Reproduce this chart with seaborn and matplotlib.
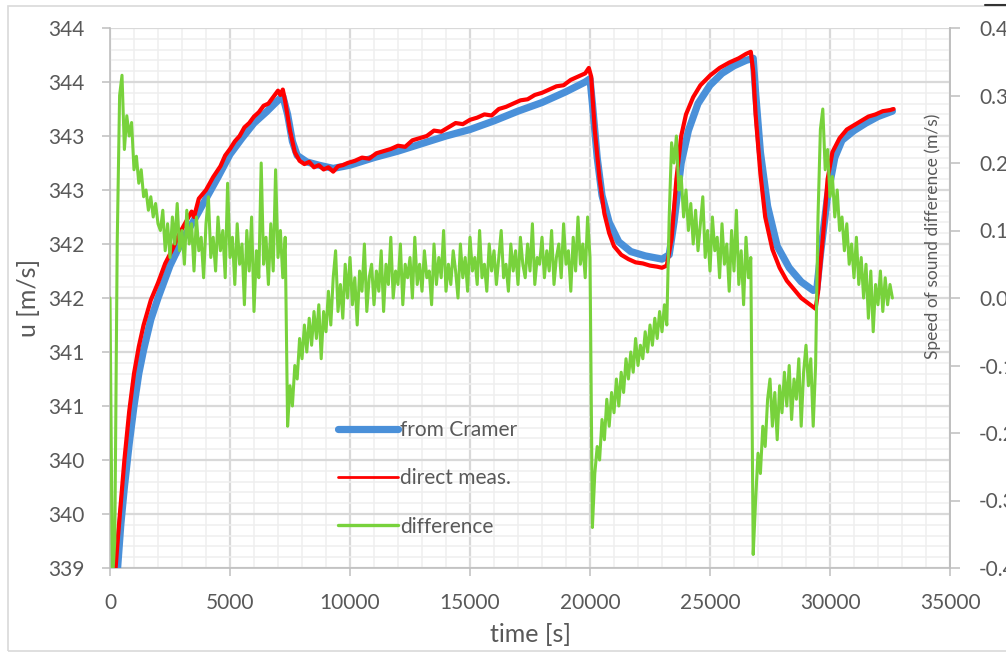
import numpy as np
import pandas as pd
import matplotlib
matplotlib.use("Agg")
import matplotlib.pyplot as plt
from matplotlib.lines import Line2D
from matplotlib.patches import Rectangle
from matplotlib.ticker import MultipleLocator, FixedLocator, FixedFormatter
import seaborn as sns

# ---------------- data ----------------
# Speed of sound computed from the Cramer equation [m/s]
cramer_time = [250, 300, 450, 600, 800, 1000, 1200, 1400, 1700, 2000, 2500, 3000,
               3500, 4000, 4500, 5000, 5500, 6000, 6500, 7000, 7200, 7400, 7600,
               7800, 8200, 8700, 9300, 10000, 11000, 12000, 13000, 14000, 15000,
               16000, 17000, 18000, 19000, 19800, 20000, 20100, 20300, 20500,
               20800, 21200, 21700, 22300, 23000, 23300, 23500, 23800, 24100,
               24500, 25000, 25500, 26000, 26500, 26800, 26900, 27100, 27400,
               27800, 28300, 28800, 29300, 29450, 29600, 29900, 30200, 30500,
               31000, 31500, 32000, 32600]
cramer_speed = [338.85, 338.95, 339.4, 339.75, 340.15, 340.5, 340.8, 341.02, 341.3,
                341.5, 341.8, 342.03, 342.22, 342.42, 342.62, 342.83, 342.98,
                343.12, 343.22, 343.33, 343.37, 343.2, 342.95, 342.82, 342.76,
                342.73, 342.7, 342.73, 342.8, 342.86, 342.93, 343.0, 343.06,
                343.14, 343.23, 343.31, 343.41, 343.5, 343.53, 343.3, 342.8,
                342.45, 342.2, 342.02, 341.93, 341.89, 341.86, 341.9, 342.2,
                342.75, 343.05, 343.3, 343.47, 343.58, 343.65, 343.7, 343.72,
                343.4, 342.85, 342.35, 341.98, 341.78, 341.65, 341.57, 341.58,
                341.9, 342.45, 342.8, 342.96, 343.05, 343.12, 343.18, 343.23]

# Directly measured speed of sound [m/s]
direct_time = [200, 300, 450, 600, 800, 1000, 1200, 1400, 1700, 2000, 2300, 2600,
               2900, 3200, 3400, 3500, 3700, 4000, 4300, 4600, 4800, 5000, 5200,
               5400, 5600, 5800, 6000, 6200, 6400, 6600, 6800, 7000, 7100, 7200,
               7300, 7500, 7700, 7900, 8100, 8300, 8500, 8700, 8900, 9100, 9300,
               9500, 9700, 9900, 10200, 10500, 10800, 11100, 11400, 11700, 12000,
               12300, 12600, 12900, 13200, 13500, 13800, 14100, 14400, 14700,
               15000, 15300, 15600, 15900, 16200, 16500, 16800, 17100, 17400,
               17700, 18000, 18300, 18600, 18900, 19200, 19500, 19800, 19950,
               20050, 20200, 20400, 20600, 20800, 21000, 21300, 21600, 21900,
               22200, 22500, 22800, 23000, 23200, 23400, 23600, 23800, 24000,
               24300, 24600, 25000, 25400, 25800, 26200, 26500, 26700, 26800,
               26900, 27100, 27300, 27600, 27900, 28200, 28500, 28800, 29100,
               29400, 29500, 29700, 29900, 30100, 30400, 30700, 31000, 31300,
               31600, 31900, 32200, 32500, 32650]
direct_speed = [338.9, 339.2, 339.6, 340.0, 340.45, 340.8, 341.05, 341.25, 341.48,
                341.64, 341.82, 341.95, 342.1, 342.22, 342.3, 342.25, 342.42,
                342.5, 342.62, 342.72, 342.82, 342.88, 342.95, 343.0, 343.08,
                343.12, 343.18, 343.22, 343.28, 343.3, 343.36, 343.42, 343.38,
                343.43, 343.32, 343.05, 342.85, 342.77, 342.74, 342.76, 342.71,
                342.73, 342.69, 342.71, 342.67, 342.72, 342.73, 342.75, 342.77,
                342.8, 342.79, 342.84, 342.86, 342.88, 342.91, 342.9, 342.96,
                342.98, 343.0, 343.05, 343.04, 343.08, 343.12, 343.11, 343.15,
                343.17, 343.2, 343.19, 343.25, 343.27, 343.3, 343.33, 343.34,
                343.38, 343.4, 343.43, 343.46, 343.47, 343.52, 343.55, 343.58,
                343.63, 343.55, 343.05, 342.6, 342.28, 342.1, 341.98, 341.9,
                341.86, 341.83, 341.82, 341.8, 341.79, 341.78, 341.8, 342.05,
                342.6, 343.0, 343.2, 343.36, 343.47, 343.56, 343.63, 343.68,
                343.72, 343.76, 343.78, 343.6, 343.2, 342.65, 342.25, 341.95,
                341.78, 341.66, 341.58, 341.5, 341.45, 341.4, 341.55, 342.05,
                342.6, 342.85, 342.98, 343.06, 343.1, 343.14, 343.18, 343.2,
                343.23, 343.24, 343.25]

# Difference direct - Cramer [m/s], logged every 100 s
diff_step = 100
diff_values = [
    # 0 - 2000 s
    0.0, -0.42, -0.36, 0.08, 0.30, 0.33, 0.22, 0.27, 0.24, 0.26, 0.19, 0.21,
    0.17, 0.19, 0.15, 0.16, 0.13, 0.15, 0.12, 0.14, 0.11,
    # 2100 - 7300 s
    0.10, 0.13, 0.07, 0.11, 0.06, 0.12, 0.08, 0.14, 0.07, 0.10, 0.05, 0.13,
    0.08, 0.11, 0.04, 0.12, 0.07, 0.09, 0.03, 0.11, 0.15, 0.06, 0.09, 0.04,
    0.12, 0.07, 0.10, 0.03, 0.17, 0.06, 0.09, 0.02, 0.11, 0.05, 0.08, -0.01,
    0.10, 0.04, 0.12, -0.02, 0.07, 0.03, 0.20, 0.05, 0.09, 0.02, 0.11, 0.04,
    0.19, 0.06, 0.10, 0.03, 0.09,
    # 7400 - 9000 s
    -0.19, -0.13, -0.16, -0.10, -0.12, -0.06, -0.09, -0.04, -0.08, -0.03,
    -0.07, -0.02, -0.06, -0.01, -0.09, -0.02, -0.05,
    # 9100 - 20000 s
    0.01, -0.04, 0.03, 0.07, -0.02, 0.02, -0.03, 0.05, 0.00, 0.06,
    -0.01, 0.03, -0.04, 0.04, 0.01, 0.08, -0.02, 0.03, 0.05, -0.01,
    0.04, 0.01, 0.07, -0.02, 0.05, 0.02, 0.09, 0.00, 0.04, 0.02,
    0.08, -0.01, 0.05, 0.03, 0.06, 0.00, 0.09, 0.02, 0.05, 0.01,
    0.07, 0.03, 0.04, -0.01, 0.08, 0.02, 0.06, 0.03, 0.10, 0.01,
    0.05, 0.02, 0.07, 0.04, 0.00, 0.08, 0.03, 0.06, 0.01, 0.09,
    0.04, 0.06, 0.02, 0.10, 0.03, 0.05, 0.01, 0.08, 0.04, 0.07,
    0.02, 0.06, 0.10, 0.03, 0.05, 0.01, 0.08, 0.04, 0.07, 0.02,
    0.09, 0.05, 0.03, 0.08, 0.04, 0.11, 0.02, 0.06, 0.05, 0.09,
    0.03, 0.07, 0.04, 0.10, 0.02, 0.06, 0.08, 0.03, 0.11, 0.05,
    0.07, 0.01, 0.09, 0.04, 0.12, 0.05, 0.08, 0.03, 0.12, 0.06,
    # 20100 - 23200 s
    -0.34, -0.26, -0.22, -0.24, -0.18, -0.21, -0.15, -0.19, -0.14, -0.17,
    -0.12, -0.16, -0.11, -0.14, -0.09, -0.12, -0.08, -0.11, -0.06, -0.10,
    -0.07, -0.09, -0.05, -0.08, -0.04, -0.07, -0.03, -0.06, -0.02, -0.05,
    -0.01, -0.04,
    # 23300 - 26700 s
    0.12, 0.23, 0.20, 0.24, 0.16, 0.18, 0.12, 0.16, 0.10, 0.14, 0.08, 0.13,
    0.07, 0.11, 0.15, 0.06, 0.10, 0.04, 0.12, 0.07, 0.09, 0.03, 0.11, 0.05,
    0.08, 0.01, 0.10, 0.04, 0.13, 0.02, 0.07, -0.01, 0.09, 0.03, 0.06,
    # 26800 - 29400 s
    -0.38, -0.30, -0.23, -0.26, -0.19, -0.22, -0.15, -0.12, -0.19, -0.14,
    -0.21, -0.13, -0.17, -0.11, -0.16, -0.10, -0.18, -0.12, -0.15, -0.09,
    -0.19, -0.11, -0.07, -0.13, -0.09, -0.19, -0.10,
    # 29500 - 32600 s
    0.12, 0.25, 0.28, 0.19, 0.22, 0.15, 0.18, 0.12, 0.16, 0.10, 0.12, 0.07,
    0.11, 0.05, 0.08, 0.03, 0.09, 0.02, 0.06, 0.00, 0.05, -0.03, 0.04, -0.05,
    0.02, -0.01, 0.04, -0.02, 0.03, -0.01, 0.02, 0.00,
]
diff_time = np.arange(len(diff_values)) * diff_step

# axis ticks and labels
x_ticks = [0, 5000, 10000, 15000, 20000, 25000, 30000, 35000]
x_labels = ["0", "5000", "10000", "15000", "20000", "25000", "30000", "35000"]
u_ticks = [339.0, 339.5, 340.0, 340.5, 341.0, 341.5, 342.0, 342.5, 343.0, 343.5, 344.0]
u_labels = ["339", "340", "340", "341", "341", "342", "342", "343", "343", "344", "344"]
d_ticks = [-0.4, -0.3, -0.2, -0.1, 0.0, 0.1, 0.2, 0.3, 0.4]
d_labels = ["-0.4", "-0.3", "-0.2", "-0.1", "0.0", "0.1", "0.2", "0.3", "0.4"]

series_names = ["from Cramer", "direct meas.", "difference"]

# ---------------- style ----------------
sns.set_theme(style="white")
plt.rcParams["font.family"] = ["Lato", "DejaVu Sans"]
plt.rcParams["axes.unicode_minus"] = False

TEXT = "#595959"
BLUE = "#4a90d9"
RED = "#ff0000"
GREEN = "#78d23c"
MAJOR_GRID = "#d9d9d9"
MINOR_GRID = "#efefef"
SPINE = "#bfbfbf"

W, H = 1006, 654
fig = plt.figure(figsize=(W / 100, H / 100), dpi=100)
fig.patch.set_facecolor("white")

# chart frame
fig.add_artist(Rectangle((8 / W, 1 - 651 / H), 1.2, (651 - 6) / H,
                         transform=fig.transFigure, fill=False,
                         edgecolor="#d9d9d9", linewidth=1.2))
fig.add_artist(Line2D([985 / W, 1.0], [1 - 4.5 / H, 1 - 4.5 / H],
                      transform=fig.transFigure, color="#333333", linewidth=1.5))

ax = fig.add_axes([110 / W, 1 - 568 / H, 840 / W, 540 / H])
ax.set_facecolor("white")

cramer_df = pd.DataFrame({"time": cramer_time, "u": cramer_speed})
direct_df = pd.DataFrame({"time": direct_time, "u": direct_speed})
diff_df = pd.DataFrame({"time": diff_time, "d": diff_values})

sns.lineplot(data=cramer_df, x="time", y="u", ax=ax, color=BLUE,
             linewidth=5.2, label=series_names[0], legend=False, zorder=3)
sns.lineplot(data=direct_df, x="time", y="u", ax=ax, color=RED,
             linewidth=3.0, label=series_names[1], legend=False, zorder=4)

ax.set_xlim(0, 35000)
ax.set_ylim(339, 344)

ax.xaxis.set_major_locator(FixedLocator(x_ticks))
ax.xaxis.set_major_formatter(FixedFormatter(x_labels))
ax.xaxis.set_minor_locator(MultipleLocator(1000))
ax.yaxis.set_major_locator(FixedLocator(u_ticks))
ax.yaxis.set_major_formatter(FixedFormatter(u_labels))
ax.yaxis.set_minor_locator(MultipleLocator(0.1))

ax.grid(which="major", color=MAJOR_GRID, linewidth=1.6, zorder=1)
ax.grid(which="minor", color=MINOR_GRID, linewidth=1.1, zorder=0.5)
ax.set_axisbelow(True)

ax.spines["top"].set_visible(False)
for side in ["left", "bottom", "right"]:
    ax.spines[side].set_color(SPINE)
    ax.spines[side].set_linewidth(1.2)

ax.tick_params(axis="both", which="major", direction="out", length=6,
               width=1.1, color=SPINE, labelcolor=TEXT, labelsize=15)
ax.tick_params(axis="x", which="major", pad=12, bottom=True)
ax.tick_params(axis="y", which="major", pad=12, left=True)
ax.tick_params(which="minor", length=0)

ax.set_xlabel("time [s]", fontsize=18, color=TEXT, labelpad=7)
ax.set_ylabel("u [m/s]", fontsize=18, color=TEXT, labelpad=6)

# secondary axis for the difference
ax2 = ax.twinx()
sns.lineplot(data=diff_df, x="time", y="d", ax=ax2, color=GREEN,
             linewidth=2.2, label=series_names[2], legend=False)
ax2.set_ylim(-0.4, 0.4)
ax2.yaxis.set_major_locator(FixedLocator(d_ticks))
ax2.yaxis.set_major_formatter(FixedFormatter(d_labels))
ax2.grid(False)
for side in ["top", "left", "bottom"]:
    ax2.spines[side].set_visible(False)
ax2.spines["right"].set_color(SPINE)
ax2.spines["right"].set_linewidth(1.2)
ax2.tick_params(axis="y", which="major", direction="out", length=7, width=1.1,
                color=SPINE, labelcolor=TEXT, labelsize=15, pad=14, right=True)
ax2.set_ylabel("")
ax2.set_xlabel("")

# right-hand axis title sits inside the plot area next to the spine
ax2.text(933 / W, 1 - 236 / H, "Speed of sound difference (m/s)",
         transform=fig.transFigure, rotation=90, ha="center", va="center",
         fontsize=12.5, color=TEXT)

handles = [Line2D([], [], color=BLUE, linewidth=5.2, solid_capstyle="round"),
           Line2D([], [], color=RED, linewidth=2.0),
           Line2D([], [], color=GREEN, linewidth=2.4)]
leg = ax2.legend(handles, series_names, loc="upper left",
                 bbox_to_anchor=(338 / W, 1 - 420 / H),
                 bbox_transform=fig.transFigure, frameon=False,
                 fontsize=15, handlelength=2.9, handletextpad=0.1,
                 labelspacing=1.36, borderpad=0, borderaxespad=0)
for t in leg.get_texts():
    t.set_color(TEXT)

fig.savefig("out.png", dpi=100)
